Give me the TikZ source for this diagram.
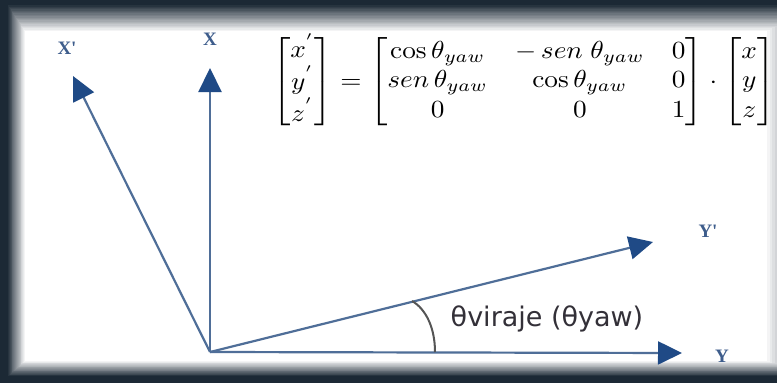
\documentclass[tikz,border=0pt]{standalone}
\usepackage{amsmath}
\usepackage{graphicx}
\usepackage{fontspec}
\newfontfamily\verd{DejaVu Sans}
\newfontfamily\lser{Liberation Serif}
\usetikzlibrary{arrows.meta}
\definecolor{frame}{HTML}{1C2935}
\definecolor{axisline}{HTML}{4F6E98}
\definecolor{axishead}{HTML}{1F4A86}
\definecolor{axislabel}{HTML}{3E5D8C}
\definecolor{arcc}{HTML}{555555}
\definecolor{lab}{HTML}{333038}
\tikzset{
  axis/.style={draw=axisline, line width=2.2pt, -{Triangle[length=24pt,width=23pt,fill=axishead,color=axishead]}},
  axlab/.style={text=axislabel, font=\lser\bfseries\fontsize{19}{19}\selectfont, inner sep=0pt},
}
\begin{document}
\begin{tikzpicture}[x=1pt,y=-1pt]
\useasboundingbox (0,0) rectangle (777,383);
\fill[frame] (0,0) rectangle (777,383);
% blurred frame: nested rectangles
\foreach \i in {0,...,20}{
  \pgfmathsetmacro{\pc}{\i*5}
  \fill[white!\pc!frame] (7+\i*0.9, 4+\i*1.35) rectangle (817-\i*2.5, 377-\i*0.8);
}
% origin and endpoints
\coordinate (O) at (210,352);
\coordinate (Xt) at (210,68);
\coordinate (Xpt) at (73,76);
\coordinate (Ypt) at (653,242);
\coordinate (Yt) at (682,353);
\draw[axis] (O) -- (Xt);
\draw[axis] (O) -- (Xpt);
\draw[axis] (O) -- (Ypt);
\draw[axis] (O) -- (Yt);
% labels
\node[axlab] (lX) at (210,39) {X};
\node[axlab] (lXp) at (67,48) {X'};
\node[axlab] (lYp) at (708,231) {Y'};
\node[axlab] (lY) at (722,356) {Y};
% angle arc
\coordinate (a1) at (435,352);
\coordinate (a2) at (412,301);
\draw[arcc, line width=2pt] (a1) .. controls (435,328) and (426,309) .. (a2);
\node[text=lab, font=\verd\fontsize{27}{27}\selectfont, inner sep=0pt] (ang) at (547,319) {θviraje (θyaw)};
% equation
\node[anchor=west, inner sep=0pt] (eq) at (272,82) {\resizebox*{503pt}{96pt}{$\begin{bmatrix} x^{'}\\ y^{'}\\ z^{'}\end{bmatrix} = \begin{bmatrix}\cos\theta_{yaw} & -\,sen\;\theta_{yaw} & 0\\ sen\,\theta_{yaw} & \cos\theta_{yaw} & 0\\ 0 & 0 & 1\end{bmatrix}\cdot\begin{bmatrix}x\\ y\\ z\end{bmatrix}$}};
\end{tikzpicture}
\end{document}
